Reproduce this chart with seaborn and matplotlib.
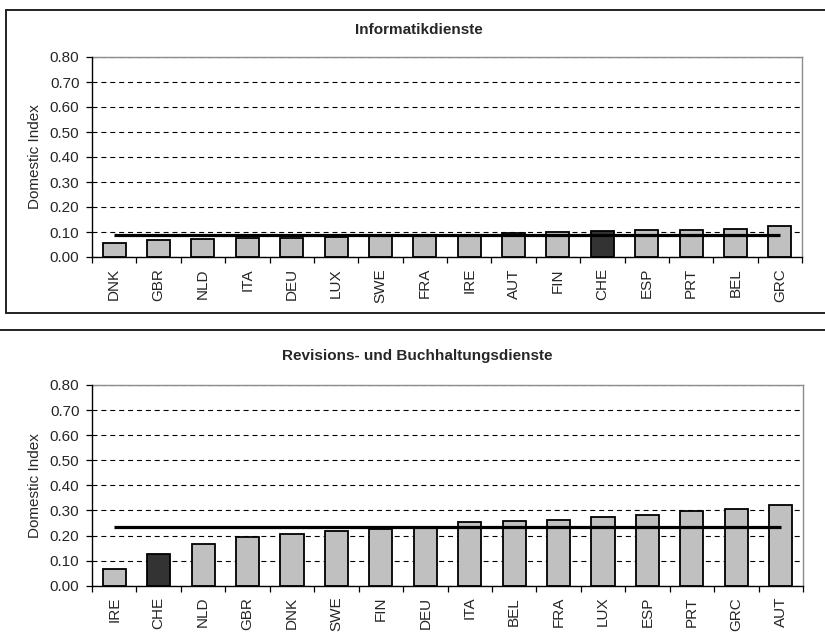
import matplotlib
matplotlib.use("Agg")
import matplotlib.pyplot as plt
import seaborn as sns
import pandas as pd
from matplotlib.lines import Line2D
from matplotlib.ticker import FixedLocator

# Domestic index by country, sorted ascending within each service sector
it_countries = ["DNK", "GBR", "NLD", "ITA", "DEU", "LUX", "SWE", "FRA",
                "IRE", "AUT", "FIN", "CHE", "ESP", "PRT", "BEL", "GRC"]
it_values = [0.056, 0.067, 0.071, 0.075, 0.077, 0.080, 0.085, 0.087,
             0.088, 0.097, 0.100, 0.103, 0.107, 0.108, 0.112, 0.124]
it_average = 0.089

acc_countries = ["IRE", "CHE", "NLD", "GBR", "DNK", "SWE", "FIN", "DEU",
                 "ITA", "BEL", "FRA", "LUX", "ESP", "PRT", "GRC", "AUT"]
acc_values = [0.065, 0.127, 0.165, 0.196, 0.207, 0.217, 0.228, 0.229,
              0.253, 0.257, 0.263, 0.275, 0.280, 0.299, 0.304, 0.320]
acc_average = 0.235

titles = ["Informatikdienste", "Revisions- und Buchhaltungsdienste"]
y_label = "Domestic Index"
y_ticks = [0.0, 0.1, 0.2, 0.3, 0.4, 0.5, 0.6, 0.7, 0.8]

highlight = "CHE"
bar_light = "#c0c0c0"
bar_dark = "#333333"

sns.set_style("white")
plt.rcParams["font.family"] = ["Liberation Sans", "DejaVu Sans"]

W, H = 825, 643
fig = plt.figure(figsize=(W / 100, H / 100), dpi=100)


def fx(px):
    return px / W


def fy(py):
    return 1 - py / H


def draw_panel(ax, countries, values, average):
    df = pd.DataFrame({"country": countries, "value": values})
    palette = {c: (bar_dark if c == highlight else bar_light) for c in countries}
    sns.barplot(data=df, x="country", y="value", hue="country", palette=palette,
                legend=False, width=0.52, edgecolor="black", linewidth=1.3,
                saturation=1, ax=ax, zorder=2)
    n = len(countries)
    ax.plot(range(n), [average] * n, color="black", lw=2.3,
            solid_capstyle="butt", zorder=3)
    ax.set_xlim(-0.5, n - 0.5)
    ax.set_ylim(0, 0.8)
    ax.set_yticks(y_ticks)
    ax.set_yticklabels([f"{t:.2f}" for t in y_ticks])
    ax.yaxis.grid(True, color="black", linestyle=(0, (4.5, 3.5)), lw=0.8)
    ax.xaxis.grid(False)
    ax.set_axisbelow(True)
    ax.set_xlabel("")
    ax.set_ylabel(y_label, fontsize=11)
    ax.yaxis.set_label_coords(-0.0705, 0.5)
    ax.xaxis.set_minor_locator(FixedLocator([i - 0.5 for i in range(n + 1)]))
    ax.tick_params(axis="x", which="major", length=0, pad=8, labelsize=11,
                   labelrotation=90)
    ax.tick_params(axis="x", which="minor", length=4, width=0.9,
                   color="black", direction="out", bottom=True)
    ax.tick_params(axis="y", which="major", length=4, width=0.9, pad=5,
                   color="black", direction="out", left=True, labelsize=11)
    for side in ("top", "right"):
        ax.spines[side].set_color("#8c8c8c")
        ax.spines[side].set_linewidth(1.0)
    for side in ("left", "bottom"):
        ax.spines[side].set_color("black")
        ax.spines[side].set_linewidth(1.0)
        ax.spines[side].set_zorder(4)


ax1 = fig.add_axes([fx(92), fy(257), fx(802) - fx(92), fy(57) - fy(257)])
draw_panel(ax1, it_countries, it_values, it_average)

ax2 = fig.add_axes([fx(92), fy(585.7), fx(803) - fx(92), fy(385) - fy(585.7)])
draw_panel(ax2, acc_countries, acc_values, acc_average)

fig.text(fx(419), fy(30), titles[0], ha="center", va="center",
         fontsize=11, fontweight="bold")
fig.text(fx(417), fy(356), titles[1], ha="center", va="center",
         fontsize=11, fontweight="bold")

# Chart-area frames
frame_color = "#222222"
fig.add_artist(Line2D([fx(6), fx(6)], [fy(10), fy(313)], color=frame_color, lw=1.4))
fig.add_artist(Line2D([fx(6), 1.0], [fy(10), fy(10)], color=frame_color, lw=1.4))
fig.add_artist(Line2D([fx(6), 1.0], [fy(313), fy(313)], color=frame_color, lw=1.4))
fig.add_artist(Line2D([0.0, 1.0], [fy(329.5), fy(329.5)], color=frame_color, lw=1.4))

fig.savefig("out.png", dpi=100)
